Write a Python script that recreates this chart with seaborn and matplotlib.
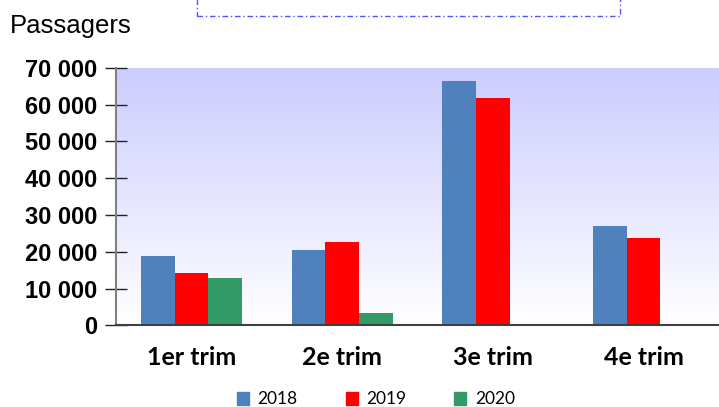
import matplotlib
matplotlib.use("Agg")
import matplotlib.pyplot as plt
import matplotlib.patches as mpatches
import numpy as np
import pandas as pd
import seaborn as sns

trimestres = ['1er trim', '2e trim', '3e trim', '4e trim']
annees = ['2018', '2019', '2020']
v2018 = [18800, 20400, 66300, 27000]
v2019 = [14200, 22600, 61700, 23600]
v2020 = [12800, 3300, 0, 0]
couleurs = ['#4F81BD', '#FF0000', '#339966']
yticks = [0, 10000, 20000, 30000, 40000, 50000, 60000, 70000]

df = pd.DataFrame({
    'trimestre': trimestres * 3,
    'annee': ['2018'] * 4 + ['2019'] * 4 + ['2020'] * 4,
    'passagers': v2018 + v2019 + v2020,
})

sns.set_style("white")
plt.rcParams['font.family'] = ['Liberation Sans', 'DejaVu Sans']
plt.rcParams['text.color'] = 'black'
plt.rcParams['xtick.color'] = 'black'
plt.rcParams['ytick.color'] = 'black'

fig = plt.figure(figsize=(7.19, 4.07), dpi=100)
ax = fig.add_axes([116 / 719, 1 - 325.3 / 407, 1 - 116 / 719, (325.3 - 67.7) / 407])

# fond en degrade (lavande -> blanc)
grad = np.linspace(0, 1, 256).reshape(-1, 1)
top = np.array([204, 204, 255]) / 255
bot = np.array([255, 255, 255]) / 255
img = top[None, None, :] * (1 - grad[:, :, None]) + bot[None, None, :] * grad[:, :, None]
ax.imshow(img, extent=[0, 1, 0, 1], transform=ax.transAxes, aspect='auto', zorder=0)

sns.barplot(data=df, x='trimestre', y='passagers', hue='annee', hue_order=annees,
            palette=couleurs, width=0.67, gap=0, saturation=1, linewidth=0,
            ax=ax, zorder=2)

ax.set_xlim(-0.5, 3.5)
ax.set_ylim(0, 70000)
ax.set_yticks(yticks)
ax.set_yticklabels([f"{v:,}".replace(',', ' ') for v in yticks],
                   fontsize=17, fontweight='bold')
ax.set_xticks(range(4))
ax.set_xticklabels(trimestres, fontsize=18, fontweight='bold', family=['Lato', 'DejaVu Sans'])
ax.set_xticks([-0.5, 0.5, 1.5, 2.5, 3.5], minor=True)
ax.tick_params(axis='x', which='major', length=0, pad=15)
ax.tick_params(axis='x', which='minor', direction='inout', length=16.5, width=1, color='#333333')
ax.tick_params(axis='y', direction='inout', length=16.5, width=1, color='#222222', pad=5,
               left=True)
ax.set_xlabel('')
ax.set_ylabel('')

for s in ['top', 'right']:
    ax.spines[s].set_visible(False)
ax.spines['left'].set_color('#808080')
ax.spines['left'].set_linewidth(1.5)
ax.spines['bottom'].set_color('#404040')
ax.spines['bottom'].set_linewidth(1.5)

fig.text(10 / 719, 1 - 33 / 407, 'Passagers', fontsize=18.5, ha='left', va='baseline')

# cadre de titre vide en pointilles
fig.patches.append(mpatches.Rectangle((197 / 719, 1 - 16 / 407), (620 - 197) / 719, 0.2,
                                      transform=fig.transFigure, fill=False,
                                      edgecolor='#5555FF', linewidth=1,
                                      linestyle=(0, (4, 2, 1, 2))))

handles = [mpatches.Patch(color=c) for c in couleurs]
ax.legend_.remove()
fig.legend(handles, annees, loc='center', bbox_to_anchor=(376 / 719, 1 - 399.5 / 407),
           ncol=3, frameon=False, prop={'family': ['Lato', 'DejaVu Sans'], 'size': 12.5},
           handlelength=0.7, handleheight=0.7, handletextpad=0.5, columnspacing=2.75)

fig.savefig('out.png', dpi=100)
